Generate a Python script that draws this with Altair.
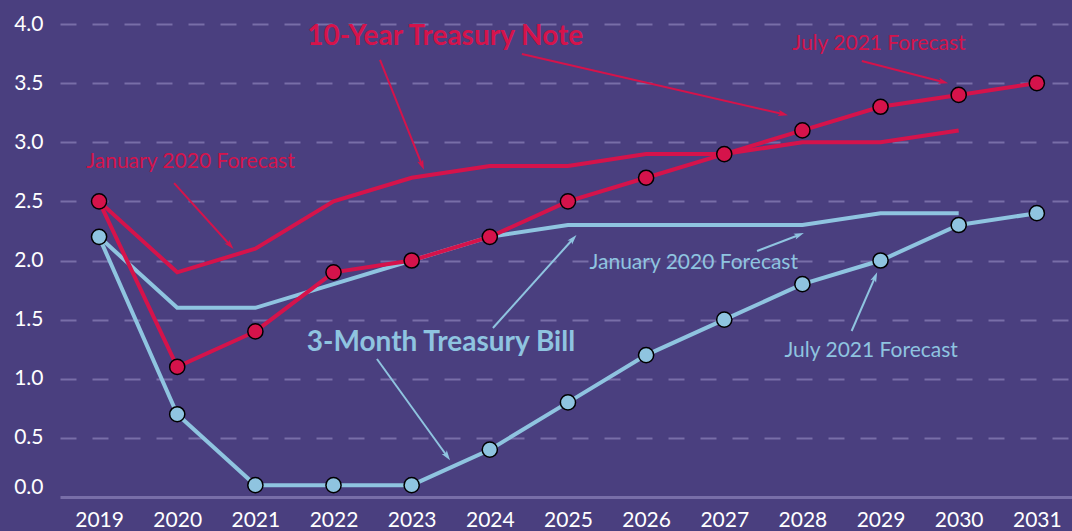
import math
import altair as alt
import pandas as pd

# ---------------- data ----------------
years = list(range(2019, 2032))
note_jul21 = [2.5, 1.1, 1.4, 1.9, 2.0, 2.2, 2.5, 2.7, 2.9, 3.1, 3.3, 3.4, 3.5]
note_jan20 = [2.5, 1.9, 2.1, 2.5, 2.7, 2.8, 2.8, 2.9, 2.9, 3.0, 3.0, 3.1]          # 2019-2030
bill_jul21 = [2.2, 0.7, 0.1, 0.1, 0.1, 0.4, 0.8, 1.2, 1.5, 1.8, 2.0, 2.3, 2.4]
bill_jan20 = [2.2, 1.6, 1.6, 1.8, 2.0, 2.2, 2.3, 2.3, 2.3, 2.3, 2.4, 2.4]          # 2019-2030
y_ticks = [0.0, 0.5, 1.0, 1.5, 2.0, 2.5, 3.0, 3.5, 4.0]

# annotation texts (data coordinates)
label_text = ["10-Year Treasury Note", "July 2021 Forecast", "January 2020 Forecast",
              "3-Month Treasury Bill", "January 2020 Forecast", "July 2021 Forecast"]
label_x = [2023.43, 2028.98, 2020.17, 2023.375, 2026.61, 2028.88]
label_y = [3.89, 3.83, 2.83, 1.30, 1.98, 1.235]
label_series = ["red", "red", "red", "blue", "blue", "blue"]
label_bold = [True, False, False, True, False, False]

# arrows (tail -> head, data coordinates)
arrow_x = [2022.595, 2024.41, 2028.76, 2019.96, 2022.556, 2024.04, 2027.42, 2028.63]
arrow_y = [3.696, 3.746, 3.687, 2.655, 1.167, 1.429, 2.080, 1.404]
arrow_x2 = [2023.132, 2027.75, 2029.80, 2020.675, 2023.452, 2025.064, 2027.956, 2028.93]
arrow_y2 = [2.808, 3.239, 3.51, 2.131, 0.347, 2.182, 2.216, 1.860]
arrow_series = ["red", "red", "red", "red", "blue", "blue", "blue", "blue"]

# ---------------- style ----------------
BG = "#4a3f7f"
GRID = "#786ea8"
RED = "#d5134b"
BLUE = "#8fc4e0"
FONT = "Lato"
COLORS = {"red": RED, "blue": BLUE}

W, H = 1012, 473
XDOM = [2018.5, 2031.45]
YDOM = [0, 4.0]
px_per_x = W / (XDOM[1] - XDOM[0])
px_per_y = H / (YDOM[1] - YDOM[0])

xscale = alt.Scale(domain=XDOM, nice=False, zero=False)
yscale = alt.Scale(domain=YDOM, nice=False)

x_axis = alt.Axis(values=years, format="d", grid=False, ticks=False, domain=True,
                  domainColor=GRID, domainWidth=3, labelColor="white", labelFont=FONT,
                  labelFontSize=21, labelPadding=12, title=None)
y_axis = alt.Axis(values=y_ticks, format=".1f", grid=True, gridDash=[16, 16],
                  gridColor=GRID, gridWidth=2,
                  gridOpacity=alt.ExprRef("datum.value == 0 ? 0 : 1"),
                  domain=False, ticks=False, labelColor="white", labelFont=FONT,
                  labelFontSize=21, labelPadding=17,
                  labelBaseline=alt.ExprRef("datum.value == 0 ? 'bottom' : 'middle'"),
                  title=None)

def X(field):
    return alt.X(field, scale=xscale, axis=x_axis, title=None)

def Y(field):
    return alt.Y(field, scale=yscale, axis=y_axis, title=None)

def series_df(vals, name):
    return pd.DataFrame({"year": years[:len(vals)], "value": vals, "series": name})

d_note_jul = series_df(note_jul21, "note_jul21")
d_note_jan = series_df(note_jan20, "note_jan20")
d_bill_jul = series_df(bill_jul21, "bill_jul21")
d_bill_jan = series_df(bill_jan20, "bill_jan20")

def line(df, color):
    return alt.Chart(df).mark_line(color=color, strokeWidth=4).encode(
        x=X("year:Q"), y=Y("value:Q"))

def dots(df, color):
    return alt.Chart(df).mark_point(filled=True, shape="circle", size=230, color=color,
                                    stroke="black", strokeWidth=1.5, opacity=1).encode(
        x=X("year:Q"), y=Y("value:Q"))

# annotations
lab = pd.DataFrame({"x": label_x, "y": label_y, "text": label_text,
                    "color": [COLORS[s] for s in label_series], "bold": label_bold})

def labels(bold, size):
    return alt.Chart(lab[lab["bold"] == bold]).mark_text(
        font=FONT, fontSize=size, fontWeight="bold" if bold else "normal",
        align="center", baseline="middle").encode(
        x=X("x:Q"), y=Y("y:Q"),
        text="text:N",
        color=alt.Color("color:N", scale=None),
    )

angles = []
for x1, y1, x2, y2 in zip(arrow_x, arrow_y, arrow_x2, arrow_y2):
    dx = (x2 - x1) * px_per_x
    dy = -(y2 - y1) * px_per_y
    angles.append(math.degrees(math.atan2(dx, -dy)) % 360)

arr = pd.DataFrame({"x": arrow_x, "y": arrow_y, "x2": arrow_x2, "y2": arrow_y2,
                    "color": [COLORS[s] for s in arrow_series], "angle": angles})

arrow_lines = alt.Chart(arr).mark_rule(strokeWidth=2).encode(
    x=X("x:Q"), y=Y("y:Q"),
    x2="x2:Q", y2="y2:Q",
    color=alt.Color("color:N", scale=None),
)
arrow_heads = alt.Chart(arr).mark_point(
    shape="M0,-1 L0.6,0.9 L0,0.45 L-0.6,0.9 Z", filled=True, size=110, opacity=1).encode(
    x=X("x2:Q"), y=Y("y2:Q"),
    angle=alt.Angle("angle:Q", scale=None),
    color=alt.Color("color:N", scale=None),
)

chart = alt.layer(
    line(d_bill_jan, BLUE),
    line(d_bill_jul, BLUE),
    line(d_note_jan, RED),
    line(d_note_jul, RED),
    dots(d_bill_jul, BLUE),
    dots(d_note_jul, RED),
    arrow_lines,
    arrow_heads,
    labels(False, 21),
    labels(True, 28),
).properties(
    width=W, height=H,
    background=BG,
    padding={"left": 60, "top": 24, "right": 0, "bottom": 34},
    autosize=alt.AutoSizeParams(type="none"),
).configure_view(stroke=None)

chart.save("out.html", embed_options={"renderer": "svg", "actions": False})
